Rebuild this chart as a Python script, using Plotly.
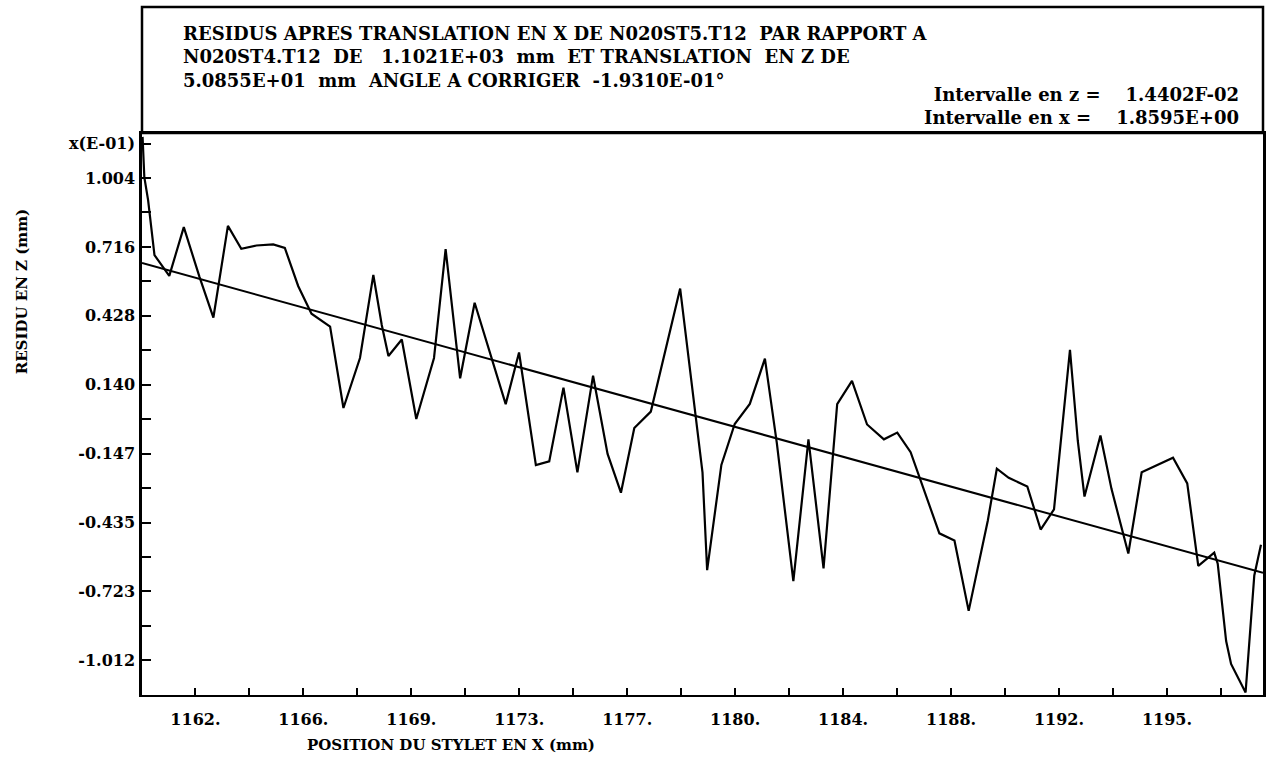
import plotly.graph_objects as go

# Stylus positions (mm) and residuals in z (units of 1E-01 mm)
x_pos = [1160.14, 1160.20, 1160.33, 1160.55, 1161.06, 1161.56, 1162.10, 1162.58, 1163.08, 1163.54,
         1164.06, 1164.64, 1165.04, 1165.50, 1165.96, 1166.60, 1167.06, 1167.63, 1168.09, 1168.38,
         1168.61, 1169.07, 1169.57, 1170.18, 1170.58, 1171.08, 1171.58, 1172.65, 1173.11, 1173.69,
         1174.15, 1174.64, 1175.12, 1175.66, 1176.16, 1176.62, 1177.08, 1177.65, 1178.66, 1179.20,
         1179.43, 1179.59, 1180.08, 1180.54, 1181.06, 1181.58, 1181.99, 1182.56, 1183.08, 1183.60,
         1184.07, 1184.58, 1185.10, 1185.68, 1186.14, 1186.60, 1187.59, 1188.11, 1188.60, 1189.26,
         1189.57, 1189.98, 1190.62, 1191.08, 1191.54, 1192.09, 1192.36, 1192.59, 1193.14, 1193.52,
         1194.10, 1194.56, 1195.64, 1196.13, 1196.51, 1197.06, 1197.18, 1197.47, 1197.64, 1198.14,
         1198.44, 1198.57, 1198.67]
residu_z = [1.176, 1.008, 0.912, 0.682, 0.595, 0.799, 0.591, 0.421, 0.804, 0.708,
            0.722, 0.727, 0.712, 0.553, 0.437, 0.383, 0.043, 0.252, 0.599, 0.390,
            0.260, 0.329, -0.003, 0.252, 0.707, 0.167, 0.483, 0.059, 0.275, -0.196,
            -0.180, 0.128, -0.226, 0.178, -0.149, -0.311, -0.041, 0.028, 0.542, 0.021,
            -0.226, -0.635, -0.195, -0.024, 0.060, 0.249, -0.103, -0.681, -0.088, -0.627,
            0.059, 0.156, -0.026, -0.088, -0.060, -0.142, -0.481, -0.511, -0.805, -0.427,
            -0.211, -0.249, -0.285, -0.465, -0.381, 0.286, -0.095, -0.327, -0.072, -0.295,
            -0.565, -0.226, -0.165, -0.272, -0.617, -0.562, -0.608, -0.931, -1.027, -1.146,
            -0.657, -0.584, -0.529]

# Fitted straight line (end points over the axis span)
fit_x = [1160.12, 1198.74]
fit_z = [0.649, -0.646]

# Axis graduations
x_first = 1161.96
x_step = 1.8595          # Intervalle en x
x_labels = ["1162.", "1166.", "1169.", "1173.", "1177.", "1180.", "1184.", "1188.", "1192.", "1195."]
z_first = 1.00426
z_step = 0.14402         # Intervalle en z (x10)
z_labels = ["1.004", "0.716", "0.428", "0.140", "-0.147", "-0.435", "-0.723", "-1.012"]
z_unit = "x(E-01)"

x_range = [1160.12, 1198.74]
z_range = [-1.1566, 1.1923]

title_lines = [
    "RESIDUS APRES TRANSLATION EN X DE N020ST5.T12  PAR RAPPORT A",
    "N020ST4.T12  DE   1.1021E+03  mm  ET TRANSLATION  EN Z DE",
    "5.0855E+01  mm  ANGLE A CORRIGER  -1.9310E-01\u00b0",
]
interval_lines = [
    "Intervalle en z =    1.4402F-02",
    "Intervalle en x =    1.8595E+00",
]

# tick positions: every graduation, label every second one
x_tickvals, x_ticktext = [], []
for k in range(-1, 21):
    v = x_first + k * x_step
    if v < x_range[0] - 0.01 or v > x_range[1]:
        continue
    x_tickvals.append(v)
    x_ticktext.append(x_labels[k // 2] if (k >= 0 and k % 2 == 0 and k // 2 < len(x_labels)) else "")

z_tickvals, z_ticktext = [], []
for k in range(-1, 16):
    v = z_first - k * z_step
    if v < z_range[0] - 0.01 or v > z_range[1]:
        continue
    z_tickvals.append(v)
    if k == -1:
        z_ticktext.append(z_unit)
    elif k % 2 == 0 and k // 2 < len(z_labels):
        z_ticktext.append(z_labels[k // 2])
    else:
        z_ticktext.append("")

W, H = 1268, 758
ml, mr, mt, mb = 142, 2, 133, 63
plot_h = H - mt - mb

def py(pix):
    # paper y for a pixel row measured from the top of the page
    return (H - mb - pix) / plot_h

def px(pix):
    return (pix - ml) / (W - ml - mr)

fig = go.Figure()
fig.add_trace(go.Scatter(x=x_pos, y=residu_z, mode="lines",
                         line=dict(color="black", width=2.2), hoverinfo="skip"))
fig.add_trace(go.Scatter(x=fit_x, y=fit_z, mode="lines",
                         line=dict(color="black", width=2), hoverinfo="skip"))

serif = "DejaVu Serif"
tick_font = dict(family=serif, size=16, color="black", weight="bold")
fig.update_xaxes(range=x_range, showgrid=False, zeroline=False,
                 showline=True, linecolor="black", linewidth=2, mirror=True,
                 ticks="inside", ticklen=7, tickwidth=2, tickcolor="black",
                 tickmode="array", tickvals=x_tickvals, ticktext=x_ticktext,
                 tickfont=tick_font, ticklabelstandoff=9)
fig.update_yaxes(range=z_range, showgrid=False, zeroline=False,
                 showline=True, linecolor="black", linewidth=2.5, mirror=True,
                 ticks="inside", ticklen=9, tickwidth=2, tickcolor="black",
                 tickmode="array", tickvals=z_tickvals, ticktext=z_ticktext,
                 tickfont=tick_font, ticklabelstandoff=1)

# header box above the plot
fig.add_shape(type="rect", xref="paper", yref="paper",
              x0=0, x1=1, y0=1, y1=py(7),
              line=dict(color="black", width=2.5), fillcolor="rgba(0,0,0,0)")

head_font = dict(family=serif, size=18, color="black", weight="bold")
fig.add_annotation(text="<br>".join(title_lines), xref="paper", yref="paper",
                   x=px(181), y=py(57), xanchor="left", yanchor="middle", align="left",
                   showarrow=False, font=head_font)
fig.add_annotation(text="<br>".join(interval_lines), xref="paper", yref="paper",
                   x=px(1244), y=py(106), xanchor="right", yanchor="middle", align="right",
                   showarrow=False, font=head_font)

axis_title_font = dict(family=serif, size=15, color="black", weight="bold")
fig.add_annotation(text="RESIDU EN Z (mm)", xref="paper", yref="paper",
                   x=px(22), y=py(291), xanchor="center", yanchor="middle",
                   textangle=-90, showarrow=False, font=axis_title_font)
fig.add_annotation(text="POSITION DU STYLET EN X (mm)", xref="paper", yref="paper",
                   x=px(305), y=py(745), xanchor="left", yanchor="middle",
                   showarrow=False, font=axis_title_font)

fig.update_layout(width=W, height=H, margin=dict(l=ml, r=mr, t=mt, b=mb),
                  paper_bgcolor="white", plot_bgcolor="white", showlegend=False)
fig.write_html("out.html")
